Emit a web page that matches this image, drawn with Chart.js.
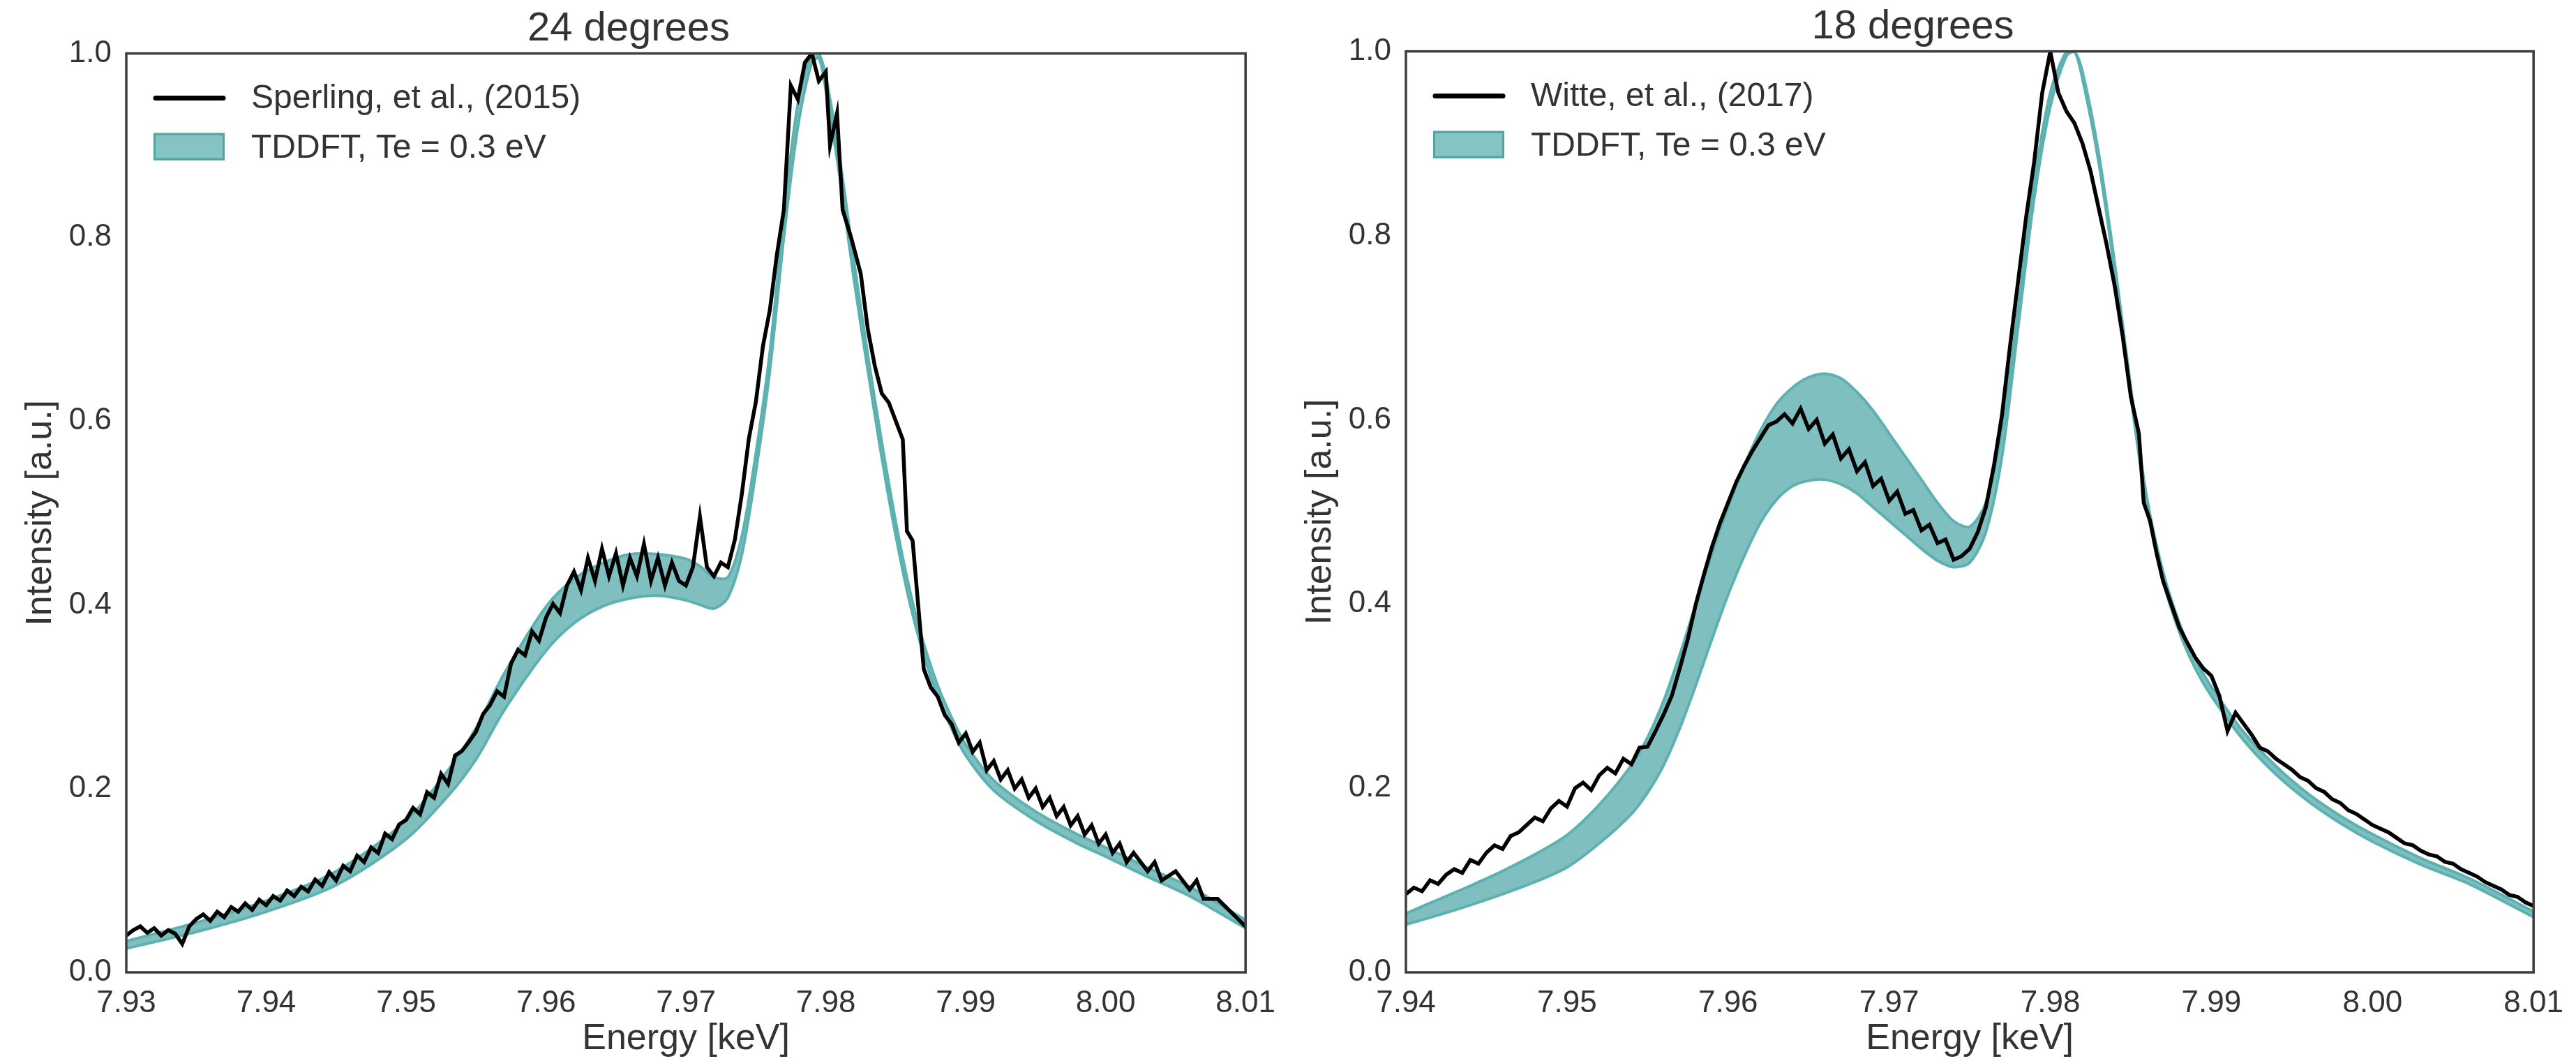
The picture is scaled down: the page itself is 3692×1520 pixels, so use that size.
<!DOCTYPE html>
<html>
<head>
<meta charset="utf-8">
<script src="https://cdn.jsdelivr.net/npm/chart.js@4.4.1/dist/chart.umd.min.js"></script>
<style>
  body { margin: 0; background: #fff; }
  #wrap { position: relative; width: 3692px; height: 1520px; }
  canvas { position: absolute; top: 0; }
</style>
</head>
<body>
<div id="wrap">
  <canvas id="left" width="1846" height="1520" style="left:0;width:1846px;height:1520px"></canvas>
  <canvas id="right" width="1846" height="1520" style="left:1846px;width:1846px;height:1520px"></canvas>
</div>
<script>
// ---- 24 degrees panel ----
const sperlingEnergy = [
  7.9300, 7.9305, 7.9310, 7.9315, 7.9320, 7.9325, 7.9330, 7.9335, 7.9340, 7.9345,
  7.9350, 7.9355, 7.9360, 7.9365, 7.9370, 7.9375, 7.9380, 7.9385, 7.9390, 7.9395,
  7.9400, 7.9405, 7.9410, 7.9415, 7.9420, 7.9425, 7.9430, 7.9435, 7.9440, 7.9445,
  7.9450, 7.9455, 7.9460, 7.9465, 7.9470, 7.9475, 7.9480, 7.9485, 7.9490, 7.9495,
  7.9500, 7.9505, 7.9510, 7.9515, 7.9520, 7.9525, 7.9530, 7.9535, 7.9540, 7.9545,
  7.9550, 7.9555, 7.9560, 7.9565, 7.9570, 7.9575, 7.9580, 7.9585, 7.9590, 7.9595,
  7.9600, 7.9605, 7.9610, 7.9615, 7.9620, 7.9625, 7.9630, 7.9635, 7.9640, 7.9645,
  7.9650, 7.9655, 7.9660, 7.9665, 7.9670, 7.9675, 7.9680, 7.9685, 7.9690, 7.9695,
  7.9700, 7.9705, 7.9710, 7.9715, 7.9720, 7.9725, 7.9730, 7.9735, 7.9740, 7.9745,
  7.9750, 7.9755, 7.9760, 7.9765, 7.9770, 7.9775, 7.9780, 7.9785, 7.9790, 7.9795,
  7.9800, 7.9803, 7.9808, 7.9812, 7.9818, 7.9825, 7.9830, 7.9835, 7.9840, 7.9845,
  7.9850, 7.9855, 7.9858, 7.9862, 7.9866, 7.9870, 7.9875, 7.9880, 7.9885, 7.9890,
  7.9895, 7.9900, 7.9905, 7.9910, 7.9915, 7.9920, 7.9925, 7.9930, 7.9935, 7.9940,
  7.9945, 7.9950, 7.9955, 7.9960, 7.9965, 7.9970, 7.9975, 7.9980, 7.9985, 7.9990,
  7.9995, 8.0000, 8.0005, 8.0010, 8.0015, 8.0020, 8.0030, 8.0035, 8.0040, 8.0050,
  8.0060, 8.0065, 8.0070, 8.0080, 8.0090, 8.0100
];
const sperlingIntensity = [
  0.040, 0.046, 0.050, 0.043, 0.048, 0.040, 0.046, 0.042, 0.031, 0.050,
  0.058, 0.063, 0.056, 0.066, 0.060, 0.071, 0.066, 0.075, 0.068, 0.079,
  0.073, 0.083, 0.078, 0.089, 0.083, 0.093, 0.088, 0.101, 0.094, 0.109,
  0.100, 0.116, 0.110, 0.127, 0.120, 0.136, 0.130, 0.151, 0.145, 0.161,
  0.166, 0.179, 0.172, 0.196, 0.190, 0.216, 0.205, 0.236, 0.241, 0.251,
  0.262, 0.281, 0.291, 0.306, 0.300, 0.336, 0.351, 0.345, 0.371, 0.361,
  0.386, 0.401, 0.391, 0.421, 0.436, 0.416, 0.451, 0.426, 0.461, 0.431,
  0.456, 0.421, 0.451, 0.431, 0.466, 0.426, 0.451, 0.421, 0.446, 0.426,
  0.421, 0.441, 0.496, 0.441, 0.431, 0.446, 0.441, 0.471, 0.521, 0.581,
  0.621, 0.681, 0.721, 0.781, 0.830, 0.965, 0.950, 0.990, 1.000, 0.970,
  0.980, 0.900, 0.935, 0.830, 0.800, 0.760, 0.700, 0.660, 0.630, 0.620,
  0.600, 0.580, 0.480, 0.470, 0.400, 0.330, 0.310, 0.300, 0.280, 0.270,
  0.250, 0.260, 0.240, 0.250, 0.220, 0.230, 0.210, 0.220, 0.200, 0.210,
  0.190, 0.200, 0.180, 0.190, 0.170, 0.180, 0.160, 0.170, 0.150, 0.160,
  0.140, 0.150, 0.130, 0.140, 0.120, 0.130, 0.110, 0.120, 0.100, 0.110,
  0.090, 0.100, 0.080, 0.080, 0.065, 0.050
];
const tddftLeftEnergy = [
  7.930, 7.935, 7.940, 7.945, 7.950, 7.953, 7.955, 7.957, 7.960, 7.962,
  7.964, 7.966, 7.968, 7.970, 7.971, 7.972, 7.973, 7.974, 7.975, 7.976,
  7.977, 7.978, 7.979, 7.9795, 7.980, 7.981, 7.982, 7.983, 7.984, 7.985,
  7.986, 7.987, 7.988, 7.989, 7.990, 7.992, 7.995, 7.998, 8.000, 8.003,
  8.006, 8.010
];
const tddftLeftLow = [
  0.026, 0.044, 0.066, 0.095, 0.145, 0.192, 0.232, 0.285, 0.350, 0.380,
  0.398, 0.407, 0.410, 0.405, 0.400, 0.396, 0.408, 0.455, 0.545, 0.655,
  0.800, 0.920, 0.990, 0.995, 0.960, 0.865, 0.755, 0.655, 0.560, 0.475,
  0.402, 0.345, 0.300, 0.265, 0.236, 0.198, 0.165, 0.140, 0.126, 0.104,
  0.083, 0.048
];
const tddftLeftHigh = [
  0.034, 0.054, 0.078, 0.110, 0.165, 0.220, 0.266, 0.325, 0.398, 0.428,
  0.445, 0.455, 0.455, 0.450, 0.442, 0.430, 0.430, 0.475, 0.565, 0.675,
  0.825, 0.945, 1.000, 1.000, 0.975, 0.885, 0.775, 0.672, 0.577, 0.490,
  0.416, 0.358, 0.312, 0.277, 0.248, 0.209, 0.175, 0.150, 0.136, 0.114,
  0.093, 0.057
];

// ---- 18 degrees panel ----
const witteEnergy = [
  7.9400, 7.9405, 7.9410, 7.9415, 7.9420, 7.9425, 7.9430, 7.9435, 7.9440, 7.9445,
  7.9450, 7.9455, 7.9460, 7.9465, 7.9470, 7.9475, 7.9480, 7.9485, 7.9490, 7.9495,
  7.9500, 7.9505, 7.9510, 7.9515, 7.9520, 7.9525, 7.9530, 7.9535, 7.9540, 7.9545,
  7.9550, 7.9555, 7.9560, 7.9565, 7.9570, 7.9575, 7.9580, 7.9585, 7.9590, 7.9595,
  7.9600, 7.9605, 7.9610, 7.9615, 7.9620, 7.9625, 7.9630, 7.9635, 7.9640, 7.9645,
  7.9650, 7.9655, 7.9660, 7.9665, 7.9670, 7.9675, 7.9680, 7.9685, 7.9690, 7.9695,
  7.9700, 7.9705, 7.9710, 7.9715, 7.9720, 7.9725, 7.9730, 7.9735, 7.9740, 7.9745,
  7.9750, 7.9755, 7.9760, 7.9765, 7.9770, 7.9775, 7.9780, 7.9785, 7.9790, 7.9795,
  7.9800, 7.9805, 7.9810, 7.9815, 7.9820, 7.9825, 7.9830, 7.9835, 7.9840, 7.9845,
  7.9850, 7.9855, 7.9858, 7.9862, 7.9866, 7.9870, 7.9875, 7.9880, 7.9885, 7.9890,
  7.9895, 7.9900, 7.9905, 7.9910, 7.9915, 7.9920, 7.9925, 7.9930, 7.9935, 7.9940,
  7.9945, 7.9950, 7.9955, 7.9960, 7.9965, 7.9970, 7.9975, 7.9980, 7.9985, 7.9990,
  7.9995, 8.0000, 8.0005, 8.0010, 8.0015, 8.0020, 8.0025, 8.0030, 8.0035, 8.0040,
  8.0045, 8.0050, 8.0055, 8.0060, 8.0065, 8.0070, 8.0075, 8.0080, 8.0085, 8.0090,
  8.0095, 8.0100
];
const witteIntensity = [
  0.085, 0.092, 0.088, 0.100, 0.096, 0.106, 0.112, 0.108, 0.122, 0.118,
  0.130, 0.138, 0.134, 0.148, 0.152, 0.160, 0.168, 0.164, 0.178, 0.186,
  0.180, 0.200, 0.206, 0.198, 0.214, 0.222, 0.216, 0.232, 0.226, 0.244,
  0.245, 0.262, 0.280, 0.300, 0.330, 0.362, 0.400, 0.432, 0.462, 0.488,
  0.510, 0.532, 0.550, 0.566, 0.580, 0.594, 0.598, 0.606, 0.596, 0.612,
  0.590, 0.600, 0.574, 0.584, 0.558, 0.568, 0.544, 0.554, 0.528, 0.536,
  0.512, 0.522, 0.498, 0.502, 0.480, 0.486, 0.466, 0.470, 0.448, 0.452,
  0.460, 0.478, 0.505, 0.550, 0.605, 0.680, 0.750, 0.820, 0.880, 0.955,
  1.000, 0.955, 0.935, 0.922, 0.900, 0.870, 0.830, 0.790, 0.745, 0.690,
  0.625, 0.585, 0.510, 0.490, 0.455, 0.425, 0.400, 0.375, 0.358, 0.342,
  0.330, 0.322, 0.300, 0.262, 0.282, 0.270, 0.258, 0.244, 0.240, 0.232,
  0.226, 0.220, 0.212, 0.208, 0.200, 0.196, 0.188, 0.184, 0.176, 0.172,
  0.166, 0.160, 0.156, 0.152, 0.146, 0.140, 0.138, 0.132, 0.128, 0.126,
  0.120, 0.118, 0.112, 0.108, 0.104, 0.098, 0.094, 0.090, 0.084, 0.082,
  0.076, 0.072
];
const tddftRightEnergy = [
  7.940, 7.942, 7.944, 7.946, 7.948, 7.950, 7.952, 7.954, 7.955, 7.956,
  7.957, 7.958, 7.959, 7.960, 7.961, 7.962, 7.963, 7.964, 7.965, 7.966,
  7.967, 7.968, 7.969, 7.970, 7.971, 7.972, 7.973, 7.974, 7.975, 7.976,
  7.977, 7.978, 7.979, 7.980, 7.981, 7.9815, 7.982, 7.983, 7.984, 7.985,
  7.986, 7.987, 7.988, 7.989, 7.990, 7.992, 7.994, 7.996, 7.998, 8.000,
  8.003, 8.006, 8.010
];
const tddftRightLow = [
  0.052, 0.062, 0.073, 0.085, 0.098, 0.114, 0.140, 0.172, 0.195, 0.225,
  0.265, 0.312, 0.362, 0.410, 0.452, 0.488, 0.513, 0.528, 0.534, 0.535,
  0.530, 0.520, 0.505, 0.490, 0.475, 0.460, 0.447, 0.440, 0.445, 0.478,
  0.560, 0.700, 0.840, 0.940, 0.995, 1.000, 0.970, 0.880, 0.760, 0.625,
  0.505, 0.425, 0.370, 0.330, 0.300, 0.252, 0.215, 0.186, 0.162, 0.142,
  0.117, 0.096, 0.060
];
const tddftRightHigh = [
  0.064, 0.079, 0.094, 0.110, 0.128, 0.149, 0.182, 0.225, 0.255, 0.295,
  0.345, 0.400, 0.455, 0.505, 0.550, 0.588, 0.617, 0.635, 0.646, 0.650,
  0.645, 0.630, 0.610, 0.585, 0.560, 0.535, 0.510, 0.490, 0.484, 0.510,
  0.588, 0.720, 0.858, 0.955, 1.000, 1.000, 0.978, 0.890, 0.770, 0.635,
  0.515, 0.435, 0.380, 0.340, 0.310, 0.261, 0.224, 0.194, 0.170, 0.150,
  0.124, 0.102, 0.066
];

const yTicks = [0, 0.2, 0.4, 0.6, 0.8, 1.0];

const FONT = '"Liberation Sans", Arial, sans-serif';
const TEXT = '#333333';
const TEAL_FILL = 'rgba(77, 166, 166, 0.72)';
const TEAL_LINE = '#5db1b0';

const toPoints = (xs, ys) => xs.map((x, i) => ({ x: x, y: ys[i] }));

// frame around the plot area
const framePlugin = {
  id: 'frame',
  afterDatasetsDraw(chart) {
    const { ctx, chartArea: a } = chart;
    ctx.save();
    ctx.strokeStyle = '#3d3d3d';
    ctx.lineWidth = 3.5;
    ctx.strokeRect(a.left, a.top, a.right - a.left, a.bottom - a.top);
    ctx.restore();
  }
};

// legend drawn inside the upper left of the plot area
const insideLegend = {
  id: 'insideLegend',
  afterDatasetsDraw(chart) {
    const { ctx, chartArea: a } = chart;
    const ds = chart.data.datasets;
    ctx.save();
    ctx.strokeStyle = '#000';
    ctx.lineWidth = 7;
    ctx.lineCap = 'round';
    ctx.beginPath();
    ctx.moveTo(a.left + 42, a.top + 64);
    ctx.lineTo(a.left + 139, a.top + 64);
    ctx.stroke();

    ctx.fillStyle = 'rgba(77, 166, 166, 0.68)';
    ctx.fillRect(a.left + 39, a.top + 114, 102, 39);
    ctx.strokeStyle = '#4ea5a5';
    ctx.lineWidth = 3;
    ctx.strokeRect(a.left + 40.5, a.top + 115.5, 99, 36);

    ctx.fillStyle = TEXT;
    ctx.font = '48px ' + FONT;
    ctx.textBaseline = 'middle';
    ctx.fillText(ds[0].label, a.left + 179, a.top + 65);
    ctx.fillText(ds[2].label, a.left + 179, a.top + 136);
    ctx.restore();
  }
};

function makeChart(id, opts) {
  return new Chart(document.getElementById(id), {
    type: 'line',
    data: {
      datasets: [
        {
          label: opts.expLabel,
          data: toPoints(opts.expX, opts.expY),
          borderColor: '#000000',
          borderWidth: 5.5,
          pointRadius: 0,
          tension: 0,
          fill: false
        },
        {
          label: 'low',
          data: toPoints(opts.bandX, opts.bandLow),
          borderColor: TEAL_LINE,
          borderWidth: 4,
          pointRadius: 0,
          tension: 0.3,
          fill: false
        },
        {
          label: 'TDDFT, Te = 0.3 eV',
          data: toPoints(opts.bandX, opts.bandHigh),
          borderColor: TEAL_LINE,
          borderWidth: 4,
          pointRadius: 0,
          tension: 0.3,
          backgroundColor: TEAL_FILL,
          fill: '-1'
        }
      ]
    },
    options: {
      responsive: false,
      animation: false,
      devicePixelRatio: 1,
      layout: { padding: { left: 0, right: opts.padRight, top: 0, bottom: 0 } },
      plugins: {
        legend: { display: false },
        tooltip: { enabled: false },
        title: {
          display: true,
          text: opts.title,
          color: TEXT,
          font: { family: FONT, size: 58, weight: 'normal', lineHeight: 1.2 },
          padding: { top: opts.titleTop, bottom: 0 }
        }
      },
      scales: {
        x: {
          type: 'linear',
          min: opts.xMin,
          max: 8.01,
          afterFit: (s) => { s.height = 127; },
          afterBuildTicks: (s) => { s.ticks = opts.xTicks.map(v => ({ value: v })); },
          grid: { display: false, drawTicks: false },
          border: { display: false },
          ticks: {
            color: TEXT,
            padding: 18,
            maxRotation: 0,
            autoSkip: false,
            font: { family: FONT, size: 44 },
            callback: (v) => Number(v).toFixed(2)
          },
          title: {
            display: true,
            text: 'Energy [keV]',
            color: TEXT,
            font: { family: FONT, size: 52 },
            padding: { top: 0, bottom: 0 }
          }
        },
        y: {
          min: 0,
          max: 1,
          afterFit: (s) => { s.width = opts.yWidth; },
          afterBuildTicks: (s) => { s.ticks = yTicks.map(v => ({ value: v })); },
          grid: { display: false, drawTicks: false },
          border: { display: false },
          ticks: {
            color: TEXT,
            padding: 21,
            font: { family: FONT, size: 44 },
            callback: (v) => Number(v).toFixed(1)
          },
          title: {
            display: true,
            text: 'Intensity [a.u.]',
            color: TEXT,
            font: { family: FONT, size: 52 },
            padding: { top: opts.yTitlePad, bottom: 0 }
          }
        }
      }
    },
    plugins: [framePlugin, insideLegend]
  });
}

makeChart('left', {
  title: '24 degrees',
  expLabel: 'Sperling, et al., (2015)',
  expX: sperlingEnergy, expY: sperlingIntensity,
  bandX: tddftLeftEnergy, bandLow: tddftLeftLow, bandHigh: tddftLeftHigh,
  xMin: 7.93,
  xTicks: [7.93, 7.94, 7.95, 7.96, 7.97, 7.98, 7.99, 8.00, 8.01],
  yWidth: 181, padRight: 44, titleTop: 7, yTitlePad: 27
});

makeChart('right', {
  title: '18 degrees',
  expLabel: 'Witte, et al., (2017)',
  expX: witteEnergy, expY: witteIntensity,
  bandX: tddftRightEnergy, bandLow: tddftRightLow, bandHigh: tddftRightHigh,
  xMin: 7.94,
  xTicks: [7.94, 7.95, 7.96, 7.97, 7.98, 7.99, 8.00, 8.01],
  yWidth: 169, padRight: 55, titleTop: 4, yTitlePad: 15
});
</script>
</body>
</html>
